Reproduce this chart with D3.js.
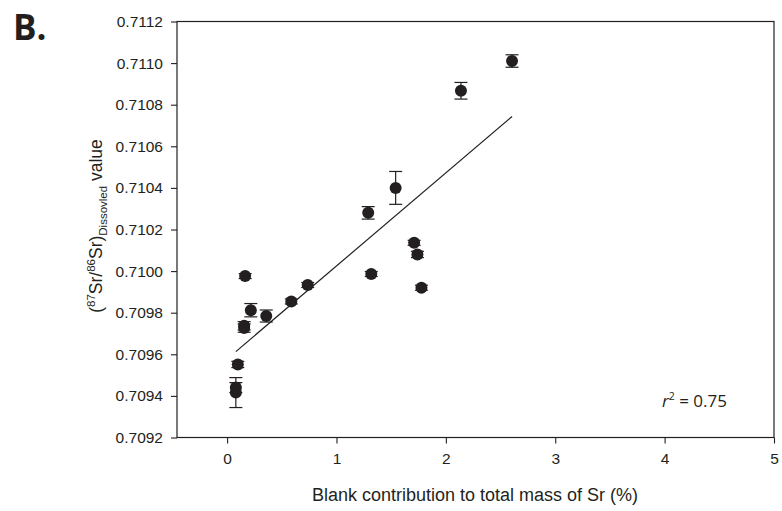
<!DOCTYPE html>
<html>
<head>
<meta charset="utf-8">
<script src="https://cdn.jsdelivr.net/npm/d3@7"></script>
<style>
  body { margin: 0; background: #fff; }
  svg text { fill: #231f20; }
</style>
</head>
<body>
<svg width="782" height="511"></svg>
<script>
// blank contribution (%) , Sr ratio , error (+/-)
var blank = [0.08, 0.08, 0.098, 0.156, 0.156, 0.165, 0.217, 0.358, 0.587, 0.737,
             1.29, 1.318, 1.541, 1.71, 1.74, 1.777, 2.138, 2.605];
var ratio = [0.70944, 0.709416, 0.709551, 0.709737, 0.709726, 0.709976, 0.709812, 0.709784, 0.709854, 0.709933,
             0.71028, 0.709986, 0.7104, 0.710136, 0.71008, 0.70992, 0.710867, 0.71101];
var err = [0.000024, 0.000072, 0.000015, 0.00002, 0.00002, 0.000012, 0.000032, 0.000029, 0.000012, 0.000012,
           0.00003, 0.000012, 0.000079, 0.000012, 0.000015, 0.000012, 0.00004, 0.00003];

// regression line end points
var fitX = [0.08, 2.605];
var fitY = [0.709613, 0.710743];

var xTicks = [0, 1, 2, 3, 4, 5];
var yTicks = [0.7092, 0.7094, 0.7096, 0.7098, 0.7100, 0.7102, 0.7104, 0.7106, 0.7108, 0.7110, 0.7112];

var pLeft = 177, pRight = 774, pTop = 21.5, pBottom = 437.5;

var svg = d3.select("svg");

var x = d3.scaleLinear().domain([-0.458, 5]).range([pLeft, pRight]);
var y = d3.scaleLinear().domain([0.7092, 0.7112]).range([pBottom, pTop]);

// frame
svg.append("rect")
  .attr("x", pLeft).attr("y", pTop)
  .attr("width", pRight - pLeft).attr("height", pBottom - pTop)
  .attr("fill", "none").attr("stroke", "#231f20").attr("stroke-width", 1.2);

svg.append("g")
  .attr("transform", "translate(0," + pBottom + ")")
  .call(d3.axisBottom(x).tickValues(xTicks).tickFormat(d3.format("d")).tickSizeOuter(0).tickSize(6).tickPadding(9.5));

svg.append("g")
  .attr("transform", "translate(" + pLeft + ",0)")
  .call(d3.axisLeft(y).tickValues(yTicks).tickFormat(d3.format(".4f")).tickSizeOuter(0).tickSize(6).tickPadding(8));

svg.selectAll(".domain").remove();
svg.selectAll(".tick line").attr("stroke", "#231f20").attr("stroke-width", 1.1);
svg.selectAll(".tick text")
  .style("font-family", "'Liberation Sans', Arial, sans-serif")
  .style("font-size", "15.5px")
  .attr("fill", "#231f20");

// regression line
svg.append("line")
  .attr("x1", x(fitX[0])).attr("y1", y(fitY[0]))
  .attr("x2", x(fitX[1])).attr("y2", y(fitY[1]))
  .attr("stroke", "#231f20").attr("stroke-width", 1.2);

var pts = blank.map(function(b, i) { return {x: b, y: ratio[i], e: err[i]}; });

// error bars
var eb = svg.append("g").selectAll("g").data(pts).enter().append("g");
eb.append("line")
  .attr("x1", function(d) { return x(d.x); }).attr("x2", function(d) { return x(d.x); })
  .attr("y1", function(d) { return y(d.y - d.e); }).attr("y2", function(d) { return y(d.y + d.e); })
  .attr("stroke", "#231f20").attr("stroke-width", 1.2);
eb.append("line")
  .attr("x1", function(d) { return x(d.x) - 6.5; }).attr("x2", function(d) { return x(d.x) + 6.5; })
  .attr("y1", function(d) { return y(d.y - d.e); }).attr("y2", function(d) { return y(d.y - d.e); })
  .attr("stroke", "#231f20").attr("stroke-width", 1.2);
eb.append("line")
  .attr("x1", function(d) { return x(d.x) - 6.5; }).attr("x2", function(d) { return x(d.x) + 6.5; })
  .attr("y1", function(d) { return y(d.y + d.e); }).attr("y2", function(d) { return y(d.y + d.e); })
  .attr("stroke", "#231f20").attr("stroke-width", 1.2);

// points
svg.append("g").selectAll("circle").data(pts).enter().append("circle")
  .attr("cx", function(d) { return x(d.x); })
  .attr("cy", function(d) { return y(d.y); })
  .attr("r", 6)
  .attr("fill", "#231f20");

// panel letter
svg.append("text")
  .attr("x", 13).attr("y", 40)
  .style("font-family", "'Open Sans', 'Noto Sans', sans-serif")
  .style("font-weight", "bold")
  .style("font-size", "35px")
  .text("B.");

// x title
svg.append("text")
  .attr("x", 475).attr("y", 501)
  .attr("text-anchor", "middle")
  .style("font-family", "'Liberation Sans', Arial, sans-serif")
  .style("font-size", "18px")
  .text("Blank contribution to total mass of Sr (%)");

// y title
var yt = svg.append("text")
  .attr("transform", "translate(102,226) rotate(-90)")
  .attr("text-anchor", "middle")
  .style("font-family", "'Liberation Sans', Arial, sans-serif")
  .style("font-size", "17.5px");
yt.append("tspan").text("(");
yt.append("tspan").attr("dy", -7).style("font-size", "11.5px").text("87");
yt.append("tspan").attr("dy", 7).text("Sr/");
yt.append("tspan").attr("dy", -7).style("font-size", "11.5px").text("86");
yt.append("tspan").attr("dy", 7).text("Sr)");
yt.append("tspan").attr("dy", 5).style("font-size", "11.5px").text("Dissovled");
yt.append("tspan").attr("dy", -5).text(" value");

// r^2 annotation
var rt = svg.append("text")
  .attr("x", 662).attr("y", 407)
  .style("font-family", "'Open Sans', 'Noto Sans', sans-serif")
  .style("font-size", "17px");
rt.append("tspan").style("font-style", "italic").text("r");
rt.append("tspan").attr("dy", -7).style("font-size", "10.5px").text("2");
rt.append("tspan").attr("dy", 7).text(" = 0.75");
</script>
</body>
</html>
